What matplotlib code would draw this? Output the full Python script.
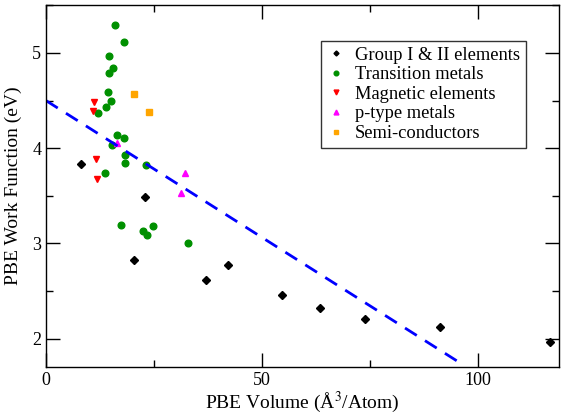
import numpy as np
import matplotlib
matplotlib.use('Agg')
import matplotlib.pyplot as plt
from matplotlib.ticker import MultipleLocator

plt.rcParams['font.family'] = 'Liberation Serif'
plt.rcParams['mathtext.fontset'] = 'stix'

# volume (A^3/atom) and work function (eV) per group
grp_v = [8.0, 22.9, 20.4, 37.0, 42.2, 54.6, 63.6, 73.9, 91.2, 116.9]
grp_w = [3.835, 3.49, 2.83, 2.62, 2.77, 2.46, 2.32, 2.21, 2.12, 1.97]

tm_v = [15.9, 18.06, 14.65, 15.5, 14.5, 14.3, 15.05, 13.96, 12.1, 16.36, 18.06,
        15.4, 18.36, 18.4, 23.1, 13.6, 17.4, 24.7, 22.5, 23.5, 32.9]
tm_w = [5.29, 5.12, 4.97, 4.84, 4.79, 4.59, 4.50, 4.43, 4.37, 4.14, 4.11,
        4.03, 3.93, 3.84, 3.82, 3.74, 3.195, 3.18, 3.13, 3.09, 3.01]

mag_v = [11.03, 10.95, 11.5, 11.9]
mag_w = [4.49, 4.39, 3.89, 3.68]

ptype_v = [16.5, 32.3, 31.2]
ptype_w = [4.06, 3.74, 3.53]

semi_v = [20.5, 23.9]
semi_w = [4.57, 4.38]

# linear fit line
fit_a = 4.5
fit_b = -0.0287
fit_x = np.array([0.0, 97.0])

fig = plt.figure(figsize=(5.61, 4.15), dpi=100)
ax = fig.add_axes([0.082, 0.1157, 0.9153, 0.8723])

ax.plot(grp_v, grp_w, 'D', color='black', ms=3.6, ls='none', label='Group I & II elements')
ax.plot(tm_v, tm_w, 'o', color='#009000', ms=4.8, ls='none', label='Transition metals')
ax.plot(mag_v, mag_w, 'v', color='red', ms=5, ls='none', label='Magnetic elements')
ax.plot(ptype_v, ptype_w, '^', color='magenta', ms=5, ls='none', label='p-type metals')
ax.plot(semi_v, semi_w, 's', color='orange', ms=4.2, ls='none', label='Semi-conductors')
ax.plot(fit_x, fit_a + fit_b * fit_x, color='blue', lw=2, dashes=(5, 3.5))

ax.set_xlim(0, 119)
ax.set_ylim(1.703, 5.504)
ax.xaxis.set_major_locator(MultipleLocator(50))
ax.xaxis.set_minor_locator(MultipleLocator(25))
ax.yaxis.set_major_locator(MultipleLocator(1))
ax.yaxis.set_minor_locator(MultipleLocator(0.5))
ax.tick_params(which='both', direction='in', top=True, right=True, labelsize=13)
ax.tick_params(which='major', length=10, width=1)
ax.tick_params(which='minor', length=5, width=1)
for s in ax.spines.values():
    s.set_linewidth(1)

ax.set_xlabel(r'PBE Volume (Å$^3$/Atom)', fontsize=14, labelpad=1)
ax.set_ylabel('PBE Work Function (eV)', fontsize=14, labelpad=7)

leg = ax.legend(loc='upper right', bbox_to_anchor=(0.934, 0.9), fontsize=13.3,
                frameon=True, fancybox=False, edgecolor='black',
                borderaxespad=0, handlelength=1.0, handletextpad=0.55,
                borderpad=0.3, labelspacing=0.14, markerscale=0.7)
leg.get_frame().set_linewidth(1)

fig.savefig('out.png', dpi=100)
